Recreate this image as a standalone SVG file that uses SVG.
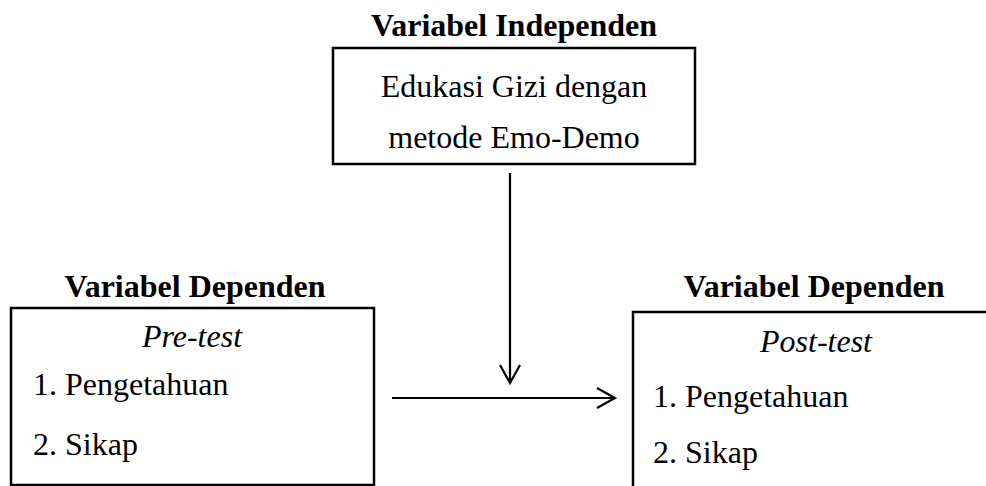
<svg xmlns="http://www.w3.org/2000/svg" width="986" height="486" viewBox="0 0 986 486">
<defs>
<style>
.t{font-family:"Liberation Serif","Times New Roman",serif;font-size:32px;fill:#000}
.b{font-weight:bold}
.i{font-style:italic}
.box{fill:#fff;stroke:#000;stroke-width:2.5}
.ln{fill:none;stroke:#000;stroke-width:2.2}
</style>
<marker id="ah" markerWidth="22" markerHeight="24" refX="19" refY="11" orient="auto" markerUnits="userSpaceOnUse">
<path d="M1,1 L19,11 L1,21" fill="none" stroke="#000" stroke-width="2.2"/>
</marker>
</defs>
<rect width="986" height="486" fill="#fff"/>
<g id="independen">
<text class="t b" x="514" y="36" text-anchor="middle">Variabel Independen</text>
<rect class="box" x="333" y="48" width="362" height="116"/>
<text class="t" x="514" y="97" text-anchor="middle">Edukasi Gizi dengan</text>
<text class="t" x="514" y="148" text-anchor="middle">metode Emo-Demo</text>
</g>
<g id="pretest">
<text class="t b" x="195" y="297" text-anchor="middle">Variabel Dependen</text>
<rect class="box" x="11" y="308" width="363" height="177"/>
<text class="t i" x="192" y="347" text-anchor="middle">Pre-test</text>
<text class="t" x="33" y="395">1. Pengetahuan</text>
<text class="t" x="33" y="455">2. Sikap</text>
</g>
<g id="posttest">
<text class="t b" x="814" y="297" text-anchor="middle">Variabel Dependen</text>
<rect class="box" x="633" y="312" width="370" height="190"/>
<text class="t i" x="816" y="352" text-anchor="middle">Post-test</text>
<text class="t" x="653" y="407">1. Pengetahuan</text>
<text class="t" x="653" y="463">2. Sikap</text>
</g>
<g id="connectors">
<line class="ln" x1="510" y1="173" x2="510" y2="383" marker-end="url(#ah)"/>
<line class="ln" x1="392" y1="398" x2="615" y2="398" marker-end="url(#ah)"/>
</g>
</svg>
